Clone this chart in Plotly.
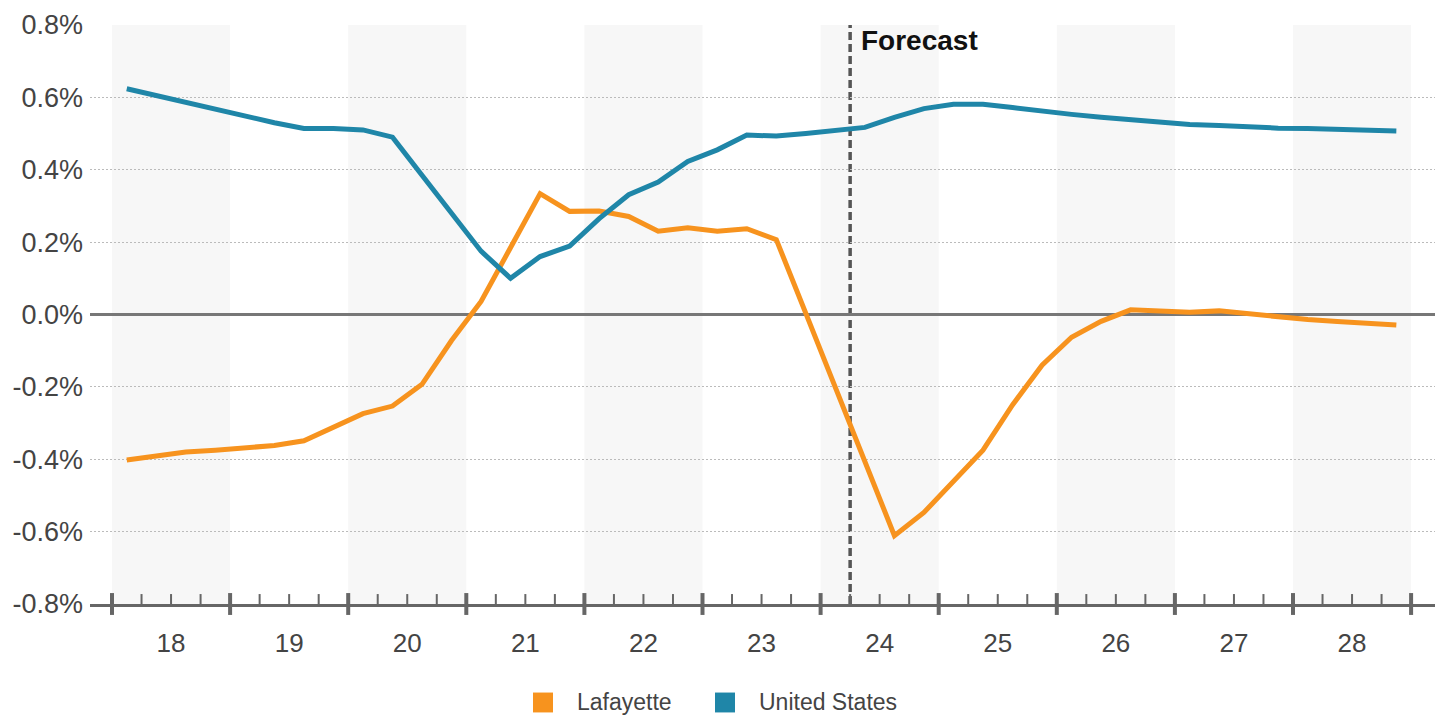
import plotly.graph_objects as go

# Quarterly employment growth, 2018Q1 - 2028Q4 (percent)
years = list(range(2018, 2029))
quarters = [f"{y}Q{q}" for y in years for q in (1, 2, 3, 4)]

lafayette = [
    -0.402, -0.390, -0.380, -0.375, -0.368, -0.362, -0.349, -0.313,
    -0.274, -0.253, -0.193, -0.072, 0.036, 0.185, 0.334, 0.285,
    0.286, 0.271, 0.230, 0.240, 0.230, 0.237, 0.207, 0.003,
    -0.202, -0.407, -0.611, -0.547, -0.459, -0.375, -0.250, -0.140,
    -0.063, -0.019, 0.013, 0.008, 0.006, 0.010, 0.001, -0.007,
    -0.014, -0.019, -0.025, -0.029,
]
united_states = [
    0.624, 0.605, 0.586, 0.567, 0.550, 0.530, 0.514, 0.514,
    0.510, 0.490, 0.385, 0.280, 0.175, 0.100, 0.160, 0.189,
    0.265, 0.331, 0.366, 0.423, 0.455, 0.496, 0.493, 0.500,
    0.507, 0.517, 0.545, 0.569, 0.581, 0.581, 0.572, 0.561,
    0.553, 0.545, 0.538, 0.532, 0.525, 0.522, 0.518, 0.515,
    0.514, 0.512, 0.510, 0.507,
]
forecast_start = "2024Q2"

y_ticks = [0.8, 0.6, 0.4, 0.2, 0.0, -0.2, -0.4, -0.6, -0.8]
y_labels = ["0.8%", "0.6%", "0.4%", "0.2%", "0.0%", "-0.2%", "-0.4%", "-0.6%", "-0.8%"]
year_labels = [str(y - 2000) for y in years]

ORANGE = "#F7931E"
BLUE = "#1F86A8"
TEXT = "#444444"
AXIS = "#666666"
FONT = "Arial, Liberation Sans, sans-serif"

W, H = 1445, 717
M_L, M_R, M_T, M_B = 90, 10, 22, 113
PW, PH = W - M_L - M_R, H - M_T - M_B


def qpos(label):
    """Axis position of a quarter: each year spans [yy-0.5, yy+0.5]."""
    y, q = int(label[:4]), int(label[-1])
    return (y - 2000) - 0.5 + (q - 0.5) / 4


def qstart(label):
    y, q = int(label[:4]), int(label[-1])
    return (y - 2000) - 0.5 + (q - 1) / 4


def px_x(px):
    return (px - M_L) / PW


def px_y(py):
    return (H - M_B - py) / PH


xs = [qpos(q) for q in quarters]

fig = go.Figure()
fig.add_trace(go.Scatter(x=xs, y=lafayette, mode="lines", name="Lafayette",
                         line=dict(color=ORANGE, width=5), showlegend=False))
fig.add_trace(go.Scatter(x=xs, y=united_states, mode="lines", name="United States",
                         line=dict(color=BLUE, width=5), showlegend=False))

shapes = []
# alternating year bands
for y in years[::2]:
    yy = y - 2000
    shapes.append(dict(type="rect", xref="x", yref="paper", x0=yy - 0.5, x1=yy + 0.5,
                       y0=0, y1=1, fillcolor="#F7F7F7", line=dict(width=0), layer="below"))

# year and quarter ticks on the bottom axis
for k in range(len(years) + 1):
    xb = years[0] - 2000 - 0.5 + k
    shapes.append(dict(type="line", xref="x", yref="paper", x0=xb, x1=xb,
                       y0=-11 / PH, y1=11 / PH, line=dict(color=AXIS, width=4)))
    if k < len(years):
        for m in (1, 2, 3):
            xm = xb + m / 4
            shapes.append(dict(type="line", xref="x", yref="paper", x0=xm, x1=xm,
                               y0=0, y1=10 / PH, line=dict(color=AXIS, width=2)))

# forecast divider
xf = qstart(forecast_start)
shapes.append(dict(type="line", xref="x", yref="paper", x0=xf, x1=xf, y0=0, y1=1,
                   line=dict(color="#555555", width=3.5, dash="8px,4px"), layer="between"))

annotations = [
    dict(x=xf, y=px_y(38), xref="x", yref="paper", text="<b>Forecast</b>",
         showarrow=False, xanchor="left", yanchor="middle", xshift=9,
         font=dict(family=FONT, size=28, color="#111111")),
]

# legend
legend_items = [("Lafayette", ORANGE, 533), ("United States", BLUE, 715)]
for name, color, left in legend_items:
    shapes.append(dict(type="rect", xref="paper", yref="paper",
                       x0=px_x(left), x1=px_x(left + 20), y0=px_y(713), y1=px_y(693),
                       fillcolor=color, line=dict(width=0)))
    annotations.append(dict(x=px_x(left + 42), y=px_y(703), xref="paper", yref="paper",
                            text=name, showarrow=False, xanchor="left", yanchor="middle",
                            font=dict(family=FONT, size=23, color=TEXT)))

fig.update_layout(
    width=W, height=H,
    margin=dict(l=M_L, r=M_R, t=M_T, b=M_B, pad=0),
    paper_bgcolor="white", plot_bgcolor="white",
    font=dict(family=FONT, color=TEXT),
    shapes=shapes, annotations=annotations,
    showlegend=False,
)
fig.update_xaxes(
    range=[17.5 - 22 / 118.1, 17.5 - 22 / 118.1 + PW / 118.1],
    tickvals=[y - 2000 for y in years], ticktext=year_labels,
    ticks="", ticklabelstandoff=14,
    tickfont=dict(size=26, color=TEXT),
    showgrid=False, zeroline=False,
    showline=True, linecolor=AXIS, linewidth=3,
)
fig.update_yaxes(
    range=[-0.8, 0.8],
    tickvals=y_ticks, ticktext=y_labels,
    ticks="", ticklabelstandoff=6,
    tickfont=dict(size=27, color=TEXT),
    showgrid=True, gridcolor="#BBBBBB", gridwidth=1, griddash="2px,2px",
    zeroline=True, zerolinecolor="#777777", zerolinewidth=3,
    showline=False,
)

fig.write_html("out.html")
